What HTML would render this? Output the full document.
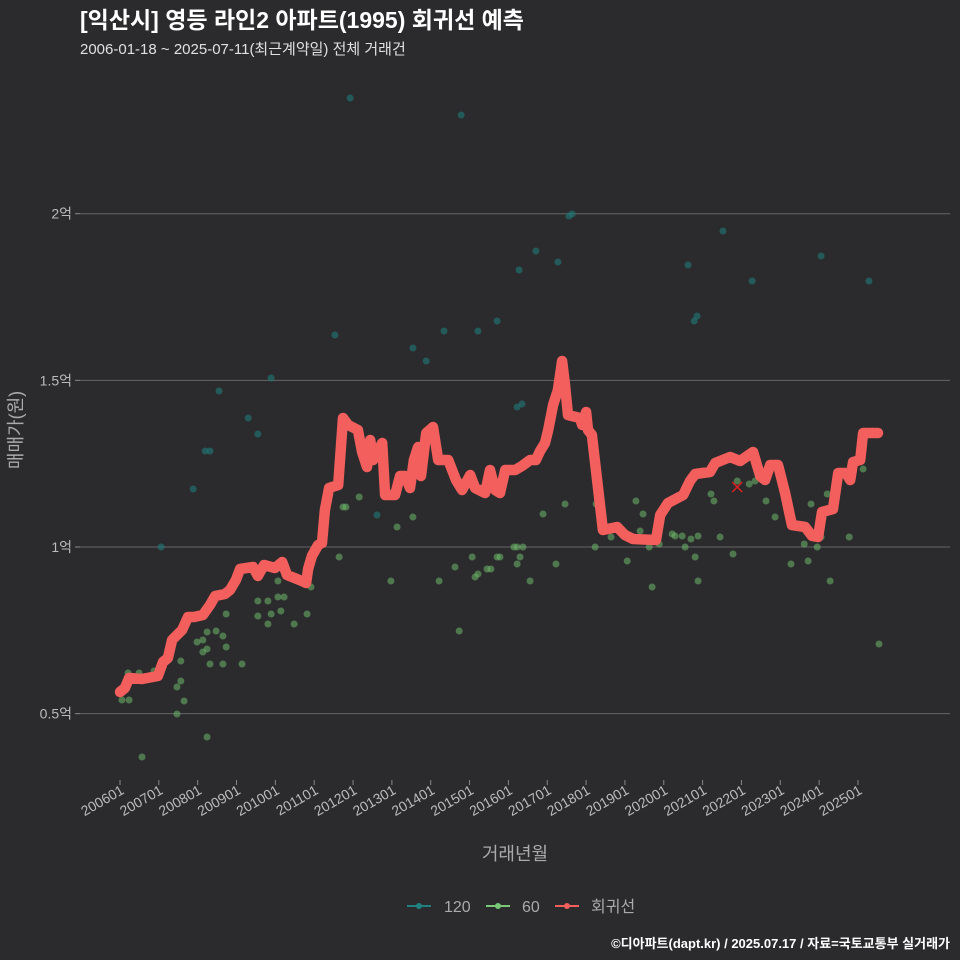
<!DOCTYPE html>
<html><head><meta charset="utf-8">
<style>
html,body{margin:0;padding:0;background:#2b2b2d;}
svg{display:block;font-family:"Liberation Sans","Noto Sans CJK KR",sans-serif;}
</style></head>
<body>
<svg id="chart" width="960" height="960" viewBox="0 0 960 960">
<rect width="960" height="960" fill="#2b2b2d"/>
<text x="80" y="28" fill="#ffffff" font-size="23" font-weight="bold">[익산시] 영등 라인2 아파트(1995) 회귀선 예측</text>
<text x="80" y="54" fill="#e0e0e0" font-size="15">2006-01-18 ~ 2025-07-11(최근계약일) 전체 거래건</text>
<g id="grid"></g>
<g id="pts"></g>
<g id="line"></g>
<g id="axes"></g>
<text x="515" y="860" fill="#aaaaaa" font-size="18" text-anchor="middle">거래년월</text>
<text transform="translate(22,430) rotate(-90)" fill="#aaaaaa" font-size="18" text-anchor="middle">매매가(원)</text>
<g>
  <g>
    <line x1="407" y1="906" x2="431" y2="906" stroke="#1f8080" stroke-width="2"/>
    <circle cx="419" cy="906" r="3" fill="#1f8080"/>
    <text x="444" y="912" fill="#aaaaaa" font-size="16">120</text>
  </g>
  <g>
    <line x1="486" y1="906" x2="510" y2="906" stroke="#78c878" stroke-width="2"/>
    <circle cx="498" cy="906" r="3" fill="#78c878"/>
    <text x="522" y="912" fill="#aaaaaa" font-size="16">60</text>
  </g>
  <g>
    <line x1="555" y1="906" x2="579" y2="906" stroke="#f25f5c" stroke-width="2"/>
    <circle cx="567" cy="906" r="3" fill="#f25f5c"/>
    <text x="591" y="912" fill="#aaaaaa" font-size="16">회귀선</text>
  </g>
</g>
<text x="950" y="948" fill="#ffffff" font-size="13" font-weight="bold" text-anchor="end">©디아파트(dapt.kr) / 2025.07.17 / 자료=국토교통부 실거래가</text>
</svg>
<script>
// month index from 2006-01, price in 억
const xTickLabels = ["200601","200701","200801","200901","201001","201101","201201","201301","201401","201501","201601","201701","201801","201901","202001","202101","202201","202301","202401","202501"];
const yTicks = [0.5, 1, 1.5, 2];
const yTickLabels = ["0.5억","1억","1.5억","2억"];
const lineM = [0,1.5,2.8,6.8,11.7,13.3,14.8,16.1,17.3,19.2,21.0,22.9,25.6,27.8,29.4,32.4,34.0,35.8,37.1,41.1,42.6,44.5,47.9,50.1,51.6,56.2,57.5,58.1,59.3,61.2,62.4,63.3,64.6,67.4,68.9,70.5,73.5,74.8,76.3,77.3,78.2,81.0,81.9,85.0,86.5,88.1,89.6,90.8,92.1,93.0,94.6,96.7,98.3,101.4,103.8,105.7,108.2,109.7,112.8,114.3,115.9,117.4,119.0,122.1,124.2,126.7,128.5,129.8,131.3,132.3,133.8,135.3,136.6,137.5,138.4,142.1,142.8,144.0,144.6,145.8,147.4,149.2,153.6,156.0,158.5,165.6,166.9,169.3,174.0,176.1,177.7,182.3,183.9,188.5,191.6,195.6,197.8,199.3,200.9,203.3,205.5,207.6,211.7,213.8,215.7,216.9,220.3,221.9,224.3,225.6,226.5,228.7,229.6,234.2];
const lineV = [0.565,0.577,0.607,0.604,0.613,0.655,0.667,0.721,0.733,0.751,0.79,0.79,0.796,0.826,0.853,0.859,0.871,0.901,0.934,0.94,0.913,0.946,0.937,0.955,0.916,0.898,0.892,0.934,0.973,1.006,1.012,1.111,1.177,1.186,1.387,1.366,1.351,1.285,1.24,1.321,1.261,1.312,1.156,1.156,1.213,1.213,1.177,1.261,1.3,1.213,1.342,1.36,1.261,1.261,1.201,1.171,1.216,1.177,1.162,1.231,1.171,1.162,1.231,1.231,1.243,1.261,1.261,1.288,1.312,1.351,1.426,1.471,1.558,1.486,1.396,1.387,1.366,1.405,1.351,1.336,1.201,1.051,1.06,1.036,1.024,1.021,1.096,1.132,1.156,1.198,1.219,1.225,1.252,1.27,1.258,1.285,1.213,1.201,1.246,1.246,1.162,1.066,1.06,1.033,1.03,1.105,1.114,1.222,1.222,1.201,1.255,1.261,1.342,1.342];
const s120M = [71.1,105.4,138.7,139.7,186.3,216.6,128.5,135.3,123.3,175.5,195.3,231.4,66.4,100.1,110.6,116.5,90.5,94.6,30.6,46.7,39.6,42.6,22.6,12.7,26.3,27.8,178.3,177.4,79.4,122.7,124.2];
const s120V = [2.347,2.296,1.993,1.999,1.948,1.873,1.888,1.855,1.831,1.846,1.798,1.798,1.636,1.648,1.648,1.678,1.597,1.558,1.468,1.507,1.387,1.339,1.174,1.0,1.288,1.288,1.693,1.678,1.096,1.42,1.429];
const s60M = [2.5,5.9,0.6,2.8,10.5,6.8,17.6,19.8,17.6,18.8,18.8,26.9,27.8,31.8,37.7,23.8,25.6,26.9,25.6,26.9,29.7,31.8,32.8,32.8,42.6,45.7,48.8,50.7,42.6,46.7,49.7,45.7,53.8,57.8,59.0,48.8,67.7,68.9,69.8,73.9,85.6,90.5,83.7,98.6,103.5,108.8,109.7,110.6,113.4,114.6,116.5,104.8,121.7,122.7,122.7,117.4,124.5,123.6,126.7,130.7,134.7,137.5,146.8,147.1,151.7,156.7,159.4,161.6,160.7,163.5,164.4,166.6,170.6,171.5,173.7,174.6,176.4,177.7,178.6,178.6,182.6,183.5,185.4,189.4,190.7,194.4,196.2,199.6,202.4,207.3,211.4,212.6,213.5,215.4,216.6,219.4,218.5,225.3,229.6,234.5];
const s60V = [0.622,0.622,0.541,0.541,0.628,0.37,0.499,0.538,0.58,0.598,0.658,0.43,0.649,0.649,0.649,0.715,0.721,0.745,0.685,0.694,0.748,0.733,0.7,0.799,0.838,0.838,0.85,0.85,0.793,0.799,0.808,0.769,0.769,0.799,0.88,0.898,0.97,1.12,1.12,1.15,1.06,1.09,0.898,0.898,0.94,0.97,0.91,0.919,0.934,0.934,0.97,0.748,1.0,1.0,0.949,0.97,1.0,0.97,0.898,1.099,0.949,1.129,1.0,1.129,1.03,0.958,1.138,1.099,1.048,1.0,0.88,1.009,1.039,1.033,1.033,1.0,1.024,0.97,1.033,0.898,1.159,1.138,1.03,0.979,1.198,1.189,1.198,1.138,1.09,0.949,1.009,0.958,1.129,1.0,1.03,0.898,1.159,1.03,1.234,0.709];
const predM = [190.7];
const predV = [1.18];

const NS = "http://www.w3.org/2000/svg";
const xScale = m => 120 + m * 38.84 / 12;
const yScale = v => 547 - (v - 1) * 333.3;
function mk(tag, attrs, parent){
  const el = document.createElementNS(NS, tag);
  for (const k in attrs) el.setAttribute(k, attrs[k]);
  parent.appendChild(el);
  return el;
}
const grid = document.getElementById('grid');
const axes = document.getElementById('axes');
yTicks.forEach((v,i)=>{
  const y = yScale(v);
  const g = mk('line',{x1:80,x2:950,y1:y,y2:y,stroke:'#666666','stroke-width':1},grid);
  
  
  const tk = mk('line',{x1:75,x2:80,y1:y,y2:y,stroke:'#888888','stroke-width':1},axes);
  
  
  const t = mk('text',{x:72,y:y+5,fill:'#bbbbbb','font-size':14,'text-anchor':'end'},axes);
  t.textContent = yTickLabels[i];
  
  
});
xTickLabels.forEach((lab,i)=>{
  const x = xScale(i*12);
  const tk = mk('line',{x1:x,x2:x,y1:780,y2:785,stroke:'#888888','stroke-width':1},axes);
  
  
  const t = mk('text',{transform:`translate(${x+5},${793}) rotate(-30)`,fill:'#bbbbbb','font-size':14,'text-anchor':'end'},axes);
  t.textContent = lab;
  
  
});
const pts = document.getElementById('pts');
s120M.forEach((m,i)=>{
  const c = mk('circle',{cx:xScale(m),cy:yScale(s120V[i]),r:3.5,fill:'#1f7a78','fill-opacity':0.6},pts);
  
  
});
s60M.forEach((m,i)=>{
  const c = mk('circle',{cx:xScale(m),cy:yScale(s60V[i]),r:3.5,fill:'#6db86a','fill-opacity':0.55},pts);
  
  
});
const ln = document.getElementById('line');
const d = lineM.map((m,i)=>(i?'L':'M')+xScale(m).toFixed(1)+','+yScale(lineV[i]).toFixed(1)).join(' ');
const p = mk('path',{d:d,fill:'none',stroke:'#f25f5c','stroke-width':10.5,'stroke-linejoin':'round','stroke-linecap':'round'},ln);


predM.forEach((m,i)=>{
  const x = xScale(m), y = yScale(predV[i]);
  const g = mk('path',{d:`M${x-5},${y-5}L${x+5},${y+5}M${x-5},${y+5}L${x+5},${y-5}`,stroke:'#e02020','stroke-width':1.5},ln);
  
  
});
</script>
</body></html>
